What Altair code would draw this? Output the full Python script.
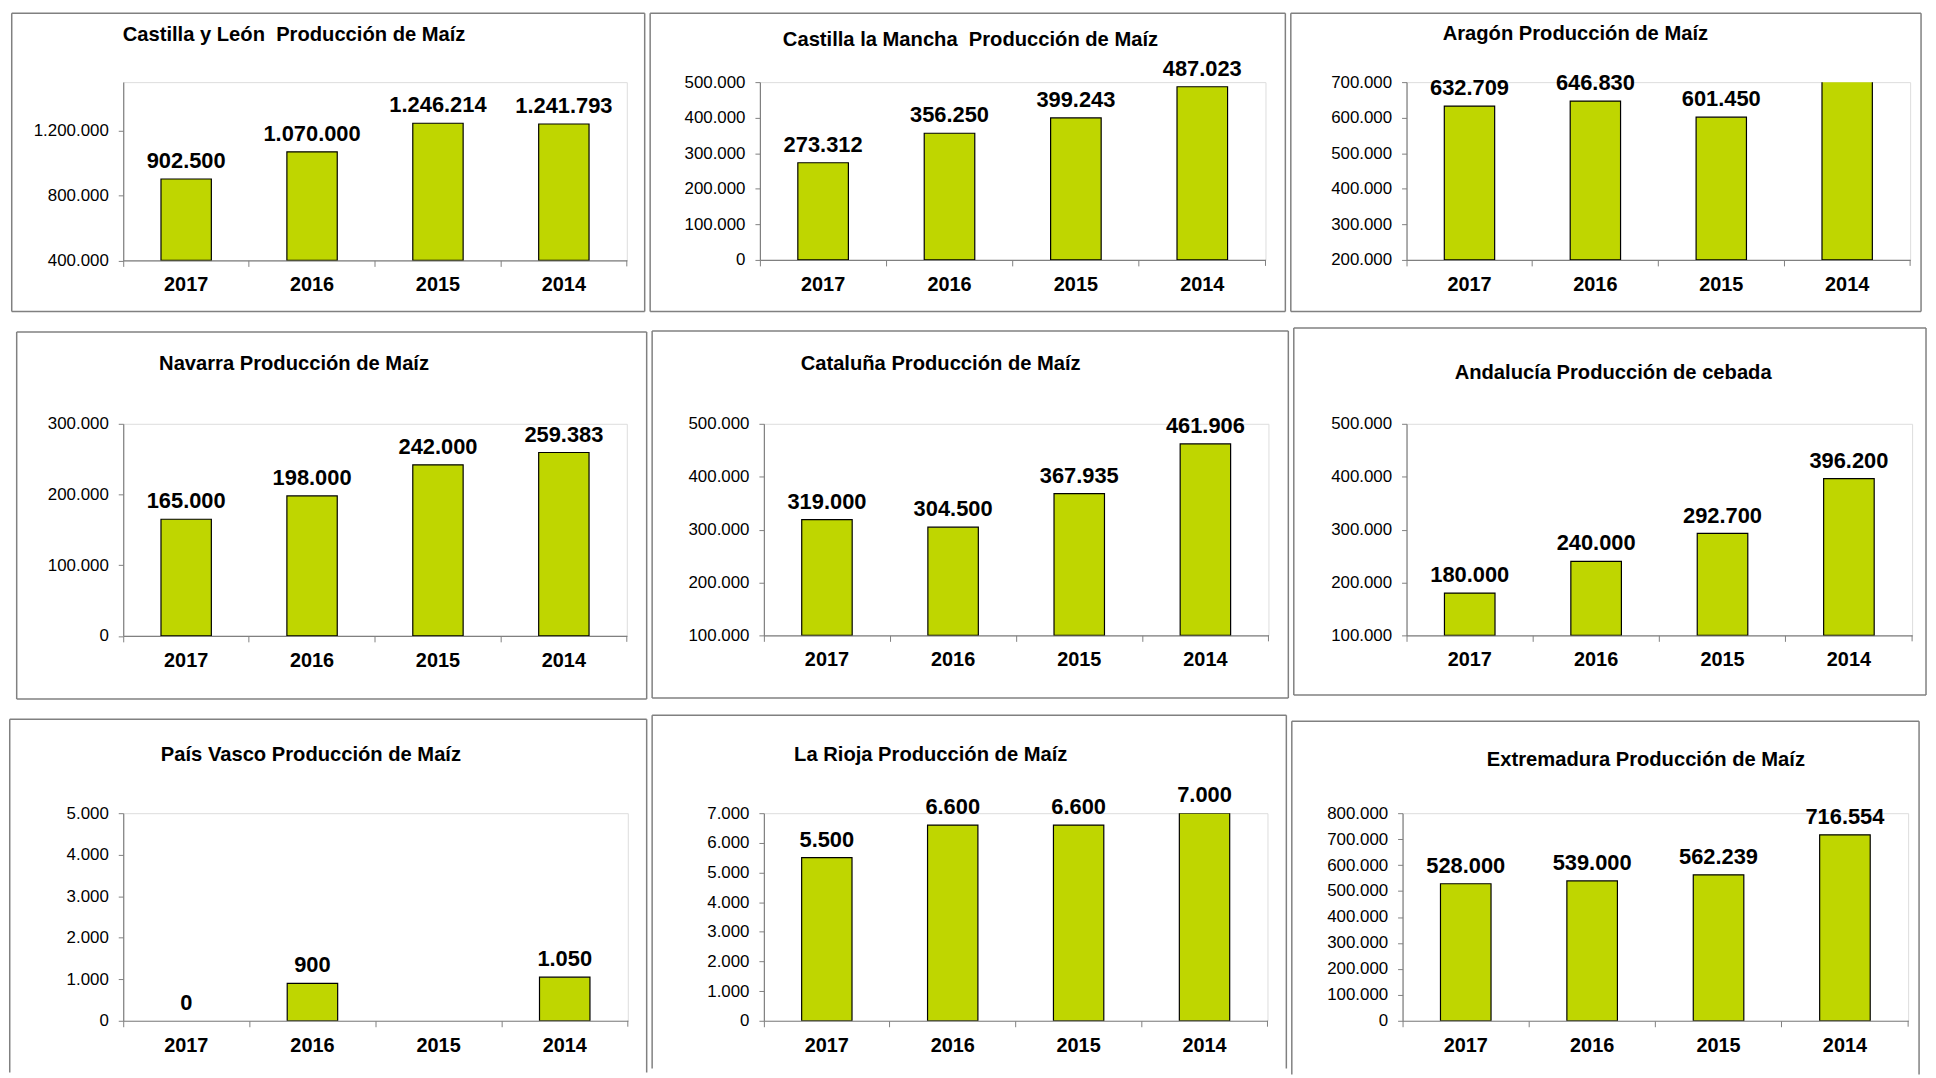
import altair as alt
import pandas as pd

years = ["2017", "2016", "2015", "2014"]

titles = [
    "Castilla y León\u00a0 Producción de Maíz",
    "Castilla la Mancha\u00a0 Producción de Maíz",
    "Aragón Producción de Maíz",
    "Navarra Producción de Maíz",
    "Cataluña Producción de Maíz",
    "Andalucía Producción de cebada",
    "País Vasco Producción de Maíz",
    "La Rioja Producción de Maíz",
    "Extremadura Producción de Maíz",
]

castilla_leon = [902500, 1070000, 1246214, 1241793]
castilla_mancha = [273312, 356250, 399243, 487023]
aragon = [632709, 646830, 601450, 760000]
navarra = [165000, 198000, 242000, 259383]
cataluna = [319000, 304500, 367935, 461906]
andalucia = [180000, 240000, 292700, 396200]
pais_vasco = [0, 900, None, 1050]
la_rioja = [5500, 6600, 6600, 7000]
extremadura = [528000, 539000, 562239, 716554]

series = [castilla_leon, castilla_mancha, aragon, navarra, cataluna,
          andalucia, pais_vasco, la_rioja, extremadura]
# which value labels are visible
show_label = [
    [1, 1, 1, 1], [1, 1, 1, 1], [1, 1, 1, 0],
    [1, 1, 1, 1], [1, 1, 1, 1], [1, 1, 1, 1],
    [1, 1, 0, 1], [1, 1, 1, 1], [1, 1, 1, 1],
]
y_domains = [
    (400000, 1500000, 400000), (0, 500000, 100000), (200000, 700000, 100000),
    (0, 300000, 100000), (100000, 500000, 100000), (100000, 500000, 100000),
    (0, 5000, 1000), (0, 7000, 1000), (0, 800000, 100000),
]

# layout (page pixels): plot box and title centre of each panel
plot_boxes = [
    (121, 81, 628, 260.5), (760, 81, 1269, 260), (1409, 81, 1916, 260),
    (116, 422, 623, 635.5), (759, 423, 1267, 636), (1404, 426, 1913, 639),
    (123, 811, 631, 1020), (766, 815, 1273, 1024), (1407, 809, 1916, 1018),
]
title_pos = [
    (293, 34), (972, 39), (1579, 33),
    (288, 362), (937, 363), (1612, 375),
    (312, 752), (934, 756), (1652, 756),
]
frame_right = [[646, 1289, 1927], [643, 1287, 1927], [650, 1292, 1927]]
frame_bottom = [312, 699, 1069]

FONT = "Liberation Sans, Arial, sans-serif"
BAR = "#BFD600"
FRAME = "#808080"
SW = 1.5
HS = 2
VS = 13
DY = -3  # renderer offset correction


def fmt(v):
    return f"{v:,}".replace(",", ".")


def panel(i, fx0, fy0, fx1, fy1, last_row):
    px0, py0, px1, py1 = plot_boxes[i]
    py0 += DY
    py1 += DY
    w, h = px1 - px0, py1 - py0
    L, R, T, B = px0 - fx0, fx1 - px1, py0 - fy0, fy1 - py1
    ymin, ymax, step = y_domains[i]
    vals = series[i]
    df = pd.DataFrame({
        "year": years,
        "value": vals,
        "label": [fmt(v) if (s and v is not None) else "" for v, s in zip(vals, show_label[i])],
    })
    ticks = list(range(ymin, ymax + 1, step))

    xscale = alt.Scale(paddingInner=0, paddingOuter=0)
    xenc = alt.X("year:N", sort=years, scale=xscale,
                 axis=alt.Axis(labels=False, title=None, bandPosition=0, tickSize=6,
                               domainColor=FRAME, tickColor=FRAME, domainWidth=1.2, tickWidth=1))
    yscale = alt.Scale(domain=[ymin, ymax], nice=False, zero=False)
    yenc = alt.Y("value:Q", scale=yscale,
                 axis=alt.Axis(values=ticks, format=",d", title=None, grid=False, tickSize=5,
                               labelPadding=10, labelFont=FONT, labelFontSize=17,
                               labelOverlap=False, labelColor="black",
                               domainColor=FRAME, tickColor=FRAME,
                               domainWidth=1.2, tickWidth=1))

    base = alt.Chart(df)
    bars = base.mark_bar(width=alt.RelativeBandSize(0.4), color=BAR, stroke="black",
                         strokeWidth=1.2, clip=True).encode(
        x=xenc, y=yenc, y2=alt.datum(ymin)).transform_filter("datum.value > 0")
    vlabels = base.mark_text(font=FONT, fontSize=22, fontWeight="bold", baseline="alphabetic",
                             dy=-11, color="black").encode(
        x=xenc, y=yenc, text="label:N")
    cats = base.mark_text(font=FONT, fontSize=20, fontWeight="bold", baseline="middle",
                          color="black").encode(
        x=xenc, y=alt.value(h + 25), text="year:N")

    one = alt.Chart(pd.DataFrame({"t": [titles[i]]}))
    title = one.mark_text(font=FONT, fontSize=20.3, fontWeight="bold", baseline="middle",
                          align="center", color="black").encode(
        text="t:N", x=alt.value(title_pos[i][0] - px0), y=alt.value(title_pos[i][1] + DY - py0))
    last_tick = one.mark_rule(color=FRAME, strokeWidth=1).encode(
        x=alt.value(w), y=alt.value(h), y2=alt.value(h + 6))

    fr = dict(color=FRAME, strokeWidth=SW)
    frame_parts = [
        one.mark_rule(**fr).encode(x=alt.value(-L), x2=alt.value(w + R), y=alt.value(-T)),
        one.mark_rule(**fr).encode(x=alt.value(-L), y=alt.value(-T), y2=alt.value(h + B)),
        one.mark_rule(**fr).encode(x=alt.value(w + R), y=alt.value(-T), y2=alt.value(h + B)),
    ]
    if not last_row:
        frame_parts.append(
            one.mark_rule(**fr).encode(x=alt.value(-L), x2=alt.value(w + R), y=alt.value(h + B)))

    return alt.layer(*frame_parts, bars, vlabels, cats, title, last_tick).properties(
        width=w, height=h)


rows = []
top = 8.0
for r in range(3):
    fy0 = top + SW / 2
    fy1 = frame_bottom[r] + (DY if r < 2 else 0)
    left = 8.0
    charts = []
    for c in range(3):
        i = r * 3 + c
        fx0 = left + SW / 2
        fx1 = frame_right[r][c]
        charts.append(panel(i, fx0, fy0, fx1, fy1, r == 2))
        left = fx1 + SW / 2 + HS
    rows.append(alt.hconcat(*charts, spacing=HS))
    top = fy1 + SW / 2 + 16

chart = alt.vconcat(*rows, spacing=VS).properties(padding=0).configure_view(
    strokeWidth=0, stroke="transparent").configure(
    locale={"number": {"decimal": ",", "thousands": ".", "grouping": [3],
                       "currency": ["", " €"]}})

chart.save("out.html", embed_options={"renderer": "svg", "actions": False})
